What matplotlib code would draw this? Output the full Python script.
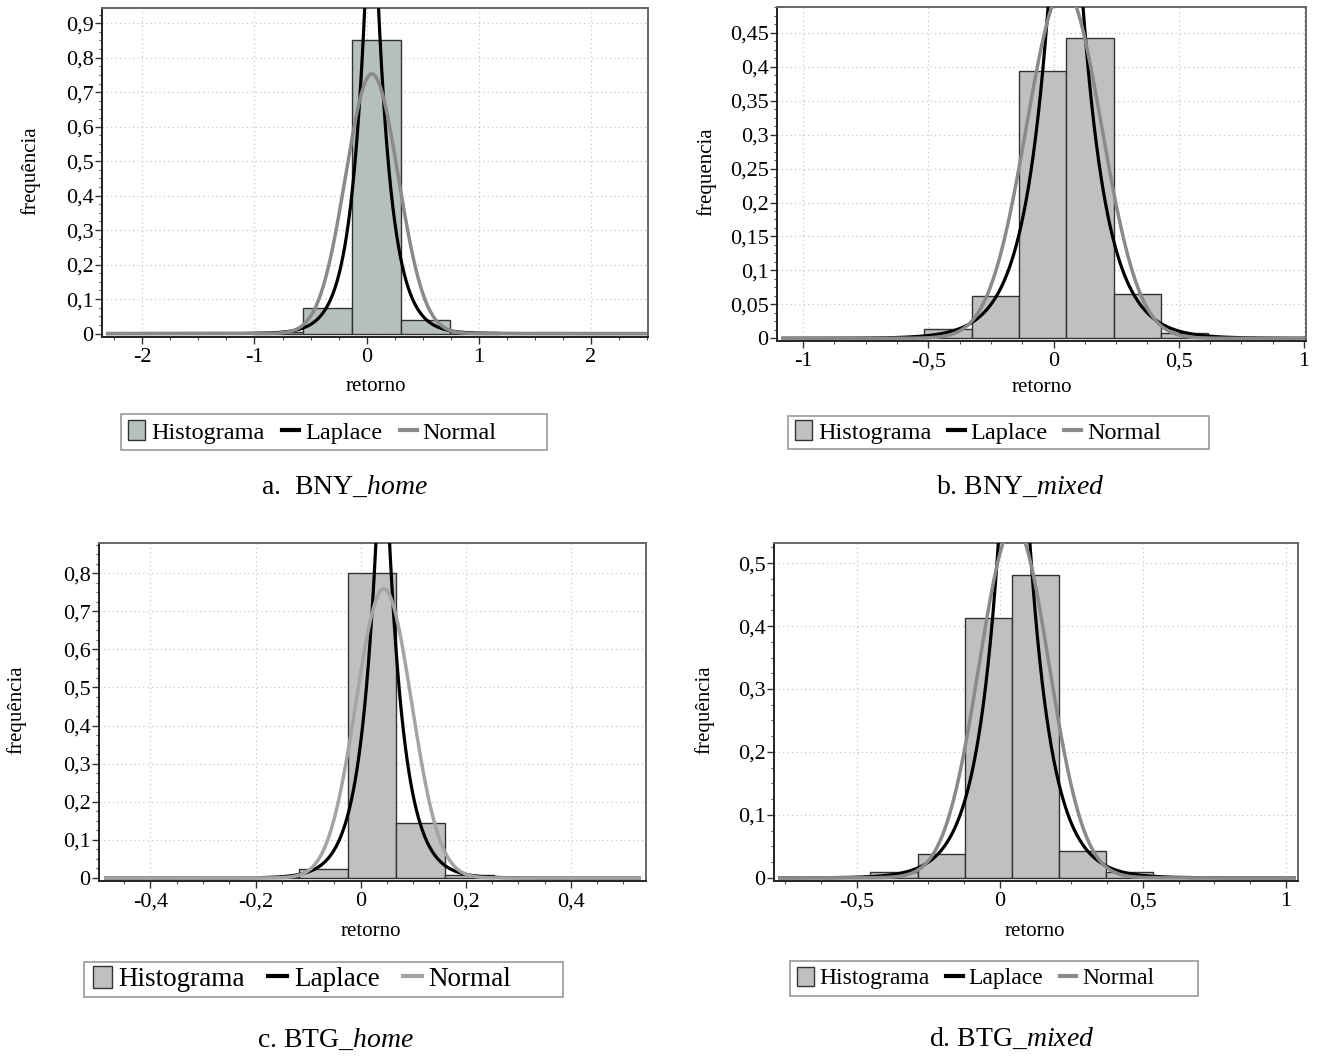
import numpy as np
import matplotlib
matplotlib.use('Agg')
import matplotlib.pyplot as plt
from matplotlib.lines import Line2D
from matplotlib.patches import Patch, Rectangle
from matplotlib.ticker import MultipleLocator, FuncFormatter

plt.rcParams['font.family'] = ['Liberation Serif', 'DejaVu Serif']
plt.rcParams['mathtext.fontset'] = 'custom'
plt.rcParams['mathtext.rm'] = 'Liberation Serif'
plt.rcParams['mathtext.it'] = 'Liberation Serif:italic'

# ---- histogram bins (edges) and relative frequencies
bny_home_edges = [-1.009, -0.571, -0.133, 0.305, 0.743, 1.181]
bny_home_freq = [0.004, 0.075, 0.850, 0.040, 0.004]

bny_mixed_edges = [-0.705, -0.516, -0.327, -0.138, 0.051, 0.240, 0.429, 0.618, 0.807]
bny_mixed_freq = [0.002, 0.013, 0.063, 0.394, 0.443, 0.065, 0.008, 0.002]

btg_home_edges = [-0.211, -0.118, -0.025, 0.067, 0.160, 0.253]
btg_home_freq = [0.003, 0.0245, 0.800, 0.143, 0.007]

btg_mixed_edges = [-0.618, -0.453, -0.288, -0.123, 0.042, 0.207, 0.372, 0.537, 0.702]
btg_mixed_freq = [0.002, 0.0095, 0.0376, 0.413, 0.4815, 0.043, 0.0095, 0.002]

# ---- fitted curves: (location, scale, peak height)
bny_home_normal = (0.047, 0.235, 0.753)
bny_home_laplace = (0.045, 0.135, 1.49)
bny_mixed_normal = (0.042, 0.15, 0.515)
bny_mixed_laplace = (0.048, 0.10, 0.98)
btg_home_normal = (0.044, 0.053, 0.759)
btg_home_laplace = (0.042, 0.032, 1.32)
btg_mixed_normal = (0.050, 0.122, 0.56)
btg_mixed_laplace = (0.050, 0.080, 1.06)

legend_labels = ['Histograma', 'Laplace', 'Normal']
ylabels = ['frequência', 'frequencia', 'frequência', 'frequência']
captions = [r'a.  BNY_$\mathit{home}$', r'b. BNY_$\mathit{mixed}$',
            r'c. BTG_$\mathit{home}$', r'd. BTG_$\mathit{mixed}$']

W, H = 1320, 1061
fig = plt.figure(figsize=(W / 100, H / 100), dpi=100)

def fx(px):
    return px / W

def fy(py):
    return 1 - py / H

def comma(v, pos):
    if abs(v) < 1e-12:
        return '0'
    return f'{v:.10g}'.replace('.', ',')

panels = [
    dict(edges=bny_home_edges, freq=bny_home_freq, normal=bny_home_normal, laplace=bny_home_laplace,
         box=(102, 8, 648, 337), xlim=(-2.36, 2.51), ylim=(-0.01, 0.944),
         xmaj=1, xmin=0.25, ymaj=0.1, ymin=0.025, curve=(-2.31, 2.49),
         bar='#b6c0ba', ncol='#8a8a8a',
         ylab=(-0.112, 0.505), xlab=(0.502, -0.122),
         leg=(128, 432), legsize=17.5, legsp=0.72, frame=(121, 414, 547, 450),
         cap=(345, 494)),
    dict(edges=bny_mixed_edges, freq=bny_mixed_freq, normal=bny_mixed_normal, laplace=bny_mixed_laplace,
         box=(777, 7, 1306, 341), xlim=(-1.104, 1.008), ylim=(-0.004, 0.488),
         xmaj=0.5, xmin=0.125, ymaj=0.05, ymin=0.0125, curve=(-1.08, 1.0),
         bar='#c0c0c0', ncol='#8a8a8a',
         ylab=(-0.115, 0.506), xlab=(0.501, -0.111),
         leg=(795, 432), legsize=17.5, legsp=0.66, frame=(788, 416, 1209, 449),
         cap=(1020, 494)),
    dict(edges=btg_home_edges, freq=btg_home_freq, normal=btg_home_normal, laplace=btg_home_laplace,
         box=(99, 543, 646, 881), xlim=(-0.498, 0.543), ylim=(-0.008, 0.879),
         xmaj=0.2, xmin=0.05, ymaj=0.1, ymin=0.025, curve=(-0.485, 0.53),
         bar='#c0c0c0', ncol='#a4a4a4',
         ylab=(-0.132, 0.506), xlab=(0.497, -0.121),
         leg=(93, 979), legsize=19.5, legsp=0.85, frame=(84, 962, 563, 997),
         cap=(336, 1047)),
    dict(edges=btg_mixed_edges, freq=btg_mixed_freq, normal=btg_mixed_normal, laplace=btg_mixed_laplace,
         box=(774, 543, 1298, 881), xlim=(-0.79, 1.043), ylim=(-0.005, 0.532),
         xmaj=0.5, xmin=0.125, ymaj=0.1, ymin=0.025, curve=(-0.77, 1.03),
         bar='#c0c0c0', ncol='#8a8a8a',
         ylab=(-0.114, 0.506), xlab=(0.498, -0.121),
         leg=(797, 978), legsize=17, legsp=0.7, frame=(790, 961, 1198, 996),
         cap=(1012, 1046)),
]

for i, p in enumerate(panels):
    l, t, r, b = p['box']
    ax = fig.add_axes([fx(l), fy(b), fx(r - l), (b - t) / H])
    ax.set_axisbelow(True)

    edges = np.array(p['edges'])
    ax.bar(edges[:-1], p['freq'], width=np.diff(edges), align='edge',
           color=p['bar'], edgecolor='#333333', linewidth=1.0, zorder=2)

    x = np.linspace(p['curve'][0], p['curve'][1], 2000)
    mu, bl, peak = p['laplace']
    ax.plot(x, peak * np.exp(-np.abs(x - mu) / bl), color='black', lw=2.3, zorder=3)
    mu, s, peak = p['normal']
    ax.plot(x, peak * np.exp(-0.5 * ((x - mu) / s) ** 2), color=p['ncol'], lw=2.5, zorder=4)

    ax.set_xlim(*p['xlim'])
    ax.set_ylim(*p['ylim'])
    ax.xaxis.set_major_locator(MultipleLocator(p['xmaj']))
    ax.xaxis.set_minor_locator(MultipleLocator(p['xmin']))
    ax.yaxis.set_major_locator(MultipleLocator(p['ymaj']))
    ax.yaxis.set_minor_locator(MultipleLocator(p['ymin']))
    ax.xaxis.set_major_formatter(FuncFormatter(comma))
    ax.yaxis.set_major_formatter(FuncFormatter(comma))
    ax.tick_params(which='major', direction='out', length=5, width=1, color='#333333',
                   labelsize=16, pad=3)
    ax.tick_params(which='minor', direction='out', length=2.5, width=0.8, color='#555555')
    ax.tick_params(axis='y', pad=1)
    ax.grid(True, which='major', color='#c8c8c8', linestyle=(0, (1, 2.5)), linewidth=0.9)

    for side in ['left', 'bottom']:
        ax.spines[side].set_color('#222222')
        ax.spines[side].set_linewidth(1.4)
    for side in ['top', 'right']:
        ax.spines[side].set_color('#666666')
        ax.spines[side].set_linewidth(1.4)

    ax.set_ylabel(ylabels[i], fontsize=15)
    ax.yaxis.set_label_coords(*p['ylab'])
    ax.set_xlabel('retorno', fontsize=15)
    ax.xaxis.set_label_coords(*p['xlab'])

    handles = [Patch(facecolor=p['bar'], edgecolor='#333333', linewidth=1.0),
               Line2D([], [], color='black', lw=3),
               Line2D([], [], color=p['ncol'], lw=3)]
    ax.legend(handles=handles, labels=legend_labels, loc='center left',
              bbox_to_anchor=(fx(p['leg'][0]), fy(p['leg'][1])), bbox_transform=fig.transFigure,
              ncol=3, frameon=False, fontsize=p['legsize'], handlelength=0.7, handleheight=0.9,
              handletextpad=0.25, columnspacing=p['legsp'], borderpad=0, borderaxespad=0)
    x0, y0, x1, y1 = p['frame']
    fig.add_artist(Rectangle((fx(x0), fy(y1)), (x1 - x0) / W, (y1 - y0) / H,
                             transform=fig.transFigure, fill=False, edgecolor='#999999', lw=1.2))

    fig.text(fx(p['cap'][0]), fy(p['cap'][1]), captions[i], ha='center', va='baseline', fontsize=20)

fig.savefig('out.png', dpi=100, facecolor='white')
